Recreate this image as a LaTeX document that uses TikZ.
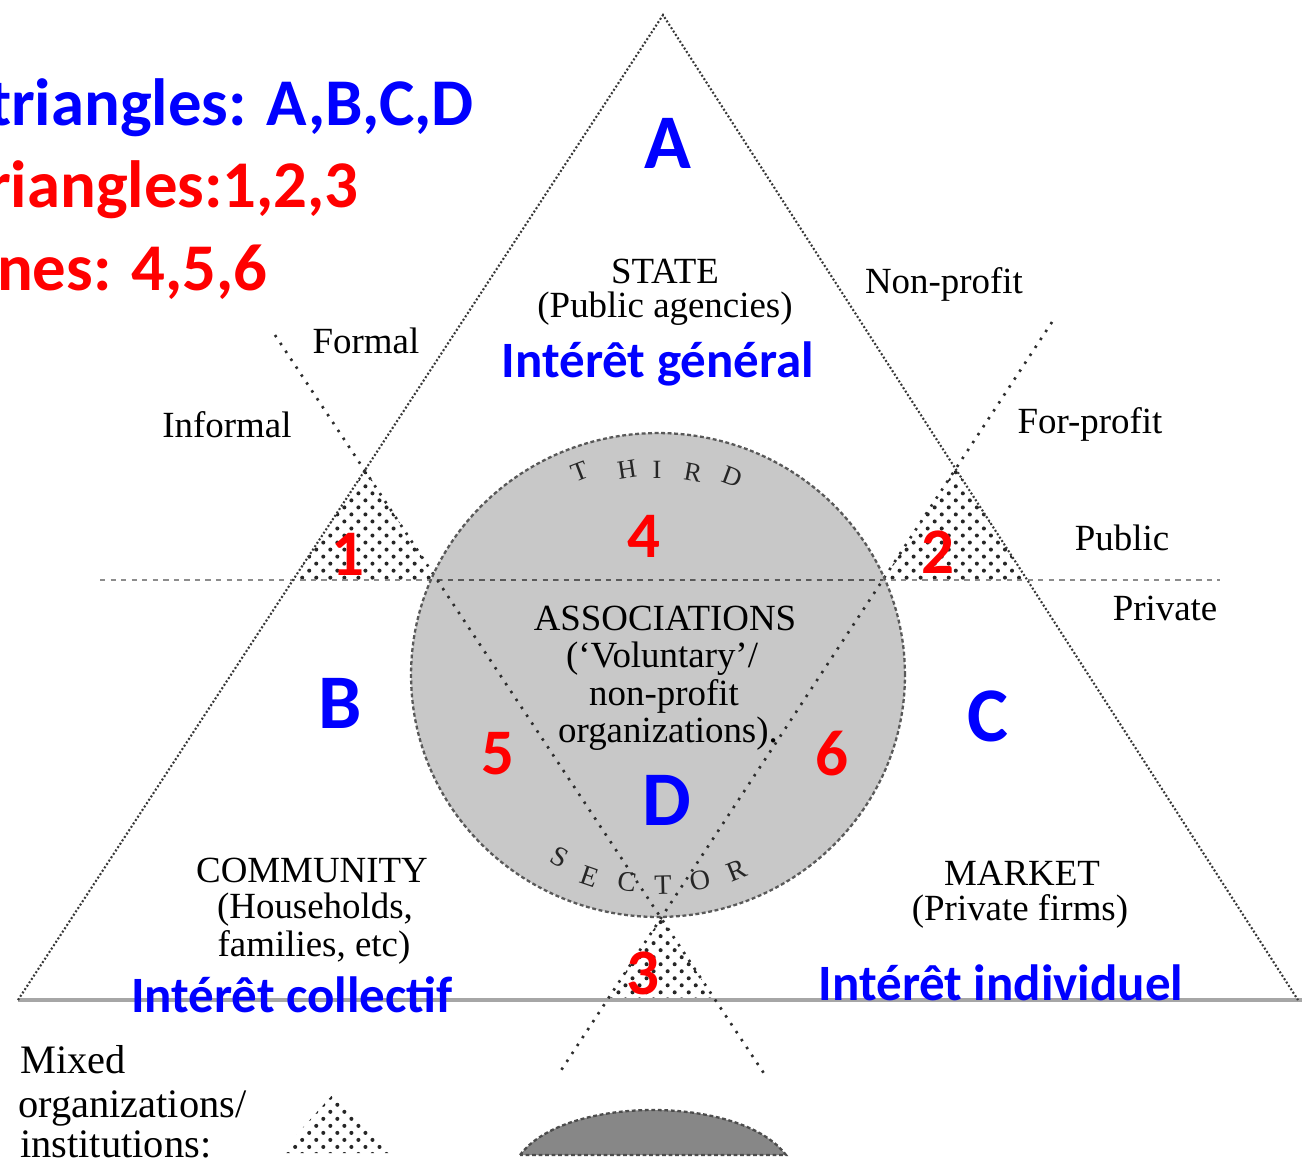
\documentclass[tikz,border=0pt]{standalone}
\usepackage{fontspec}
\setmainfont{Liberation Serif}
\newfontfamily\calfont{Carlito}
\usetikzlibrary{patterns,patterns.meta}
\definecolor{circgrey}{RGB}{200,200,200}
\definecolor{seggrey}{RGB}{135,135,135}
\definecolor{annblue}{RGB}{0,0,255}
\definecolor{annred}{RGB}{255,0,0}
\begin{document}
\begin{tikzpicture}[x=0.02cm,y=-0.02cm,
  bigside/.style={draw=black!78, line width=1.2pt, dash pattern=on 1.1pt off 1.2pt},
  divider/.style={draw=black!82, line width=1.5pt, dash pattern=on 1.4pt off 4pt},
  pubpriv/.style={draw=black!45, line width=1.1pt, dash pattern=on 3pt off 3pt},
  baseln/.style={draw=black!35, line width=1.8pt},
  circedge/.style={draw=black!65, line width=1.3pt, dash pattern=on 2.2pt off 1.5pt},
  dotsa/.style={pattern={Dots[distance=8pt,radius=1.15pt]}, pattern color=black!85},
  dotsb/.style={pattern={Dots[distance=8pt,radius=1.15pt,xshift=4pt,yshift=4pt]}, pattern color=black!85},
  scan/.style={font=\fontsize{21}{24}\selectfont, text=black, inner sep=0pt, anchor=base},
  legtext/.style={font=\fontsize{23}{26}\selectfont, text=black, inner sep=0pt, anchor=base west},
  hdr/.style={font=\calfont\bfseries\fontsize{38}{42}\selectfont, inner sep=0pt, anchor=base east},
  bigl/.style={font=\calfont\bfseries\fontsize{44}{48}\selectfont, text=annblue, inner sep=0pt},
  num/.style={font=\calfont\bfseries\fontsize{37}{40}\selectfont, text=annred, inner sep=0pt},
  interet/.style={font=\calfont\bfseries\fontsize{29}{33}\selectfont, text=annblue, inner sep=0pt, anchor=base},
  arcl/.style={font=\fontsize{15}{17}\selectfont, text=black!85, inner sep=0pt},
  arcs/.style={font=\fontsize{16}{18}\selectfont, text=black!85, inner sep=0pt}
]
\useasboundingbox (0,0) rectangle (1302,1161);
\clip (0,0) rectangle (1302,1161);
\fill[white] (0,0) rectangle (1302,1161);

% key points
\coordinate (apex) at (663,15);
\coordinate (bl) at (18,1000);
\coordinate (br) at (1298,1000);
\coordinate (l1top) at (275,335);
\coordinate (l1bot) at (765,1075);
\coordinate (l2top) at (1052,322);
\coordinate (l2bot) at (558,1075);
\coordinate (t1a) at (365.4,470.1);
\coordinate (t1l) at (293,580);
\coordinate (t1r) at (437.2,580);
\coordinate (t2a) at (955.6,468.9);
\coordinate (t2l) at (882.7,580);
\coordinate (t2r) at (1027.2,580);
\coordinate (t3a) at (661,918);
\coordinate (t3l) at (607.2,1000);
\coordinate (t3r) at (715.3,1000);
\coordinate (cc) at (658,675);

% third sector circle
\fill[circgrey] (cc) ellipse [x radius=4.94cm, y radius=4.84cm];

% mixed triangles
\foreach \ds in {dotsa,dotsb}{
  \fill[\ds] (t1a) -- (t1l) -- (t1r) -- cycle;
  \fill[\ds] (t2a) -- (t2l) -- (t2r) -- cycle;
  \fill[\ds] (t3a) -- (t3l) -- (t3r) -- cycle;
}

% lines
\draw[baseln] (bl) -- (1302,1000);
\draw[pubpriv] (100,580) -- (1220,580);
\draw[pubpriv, draw=black!65] (t1r) -- (t2l);
\draw[bigside] (bl) -- (apex) -- (br);
\draw[divider] (l1top) -- (t3a) -- (l1bot);
\draw[divider] (l2top) -- (t3a) -- (l2bot);
\draw[circedge] (cc) ellipse [x radius=4.94cm, y radius=4.84cm];

% header annotations
\node[hdr, text=annblue] (h1) at (474,125) {triangles: A,B,C,D};
\node[hdr, text=annred] (h2) at (359,207) {riangles:1,2,3};
\node[hdr, text=annred] (h3) at (268,290) {nes: 4,5,6};

% big letters
\node[bigl] (lA) at (668,143) {A};
\node[bigl] (lB) at (340,703) {B};
\node[bigl] (lC) at (988,716) {C};
\node[bigl] (lD) at (667,800) {D};

% numbers
\node[num] (n1) at (348,554) {1};
\node[num] (n2) at (938,552) {2};
\node[num] (n3) at (643,973) {3};
\node[num] (n4) at (644,536) {4};
\node[num] (n5) at (498,754) {5};
\node[num] (n6) at (832,754) {6};

% interest labels
\node[interet] (ig) at (658,377) {Intérêt général};
\node[interet] (ic) at (292,1012) {Intérêt collectif};
\node[interet] (ii) at (1001,1000) {Intérêt individuel};

% scanned labels
\node[scan] (state) at (665,283) {STATE};
\node[scan] (statesub) at (665,317) {(Public agencies)};
\node[scan] (nonprofit) at (944,293) {Non-profit};
\node[scan] (forprofit) at (1090,433) {For-profit};
\node[scan] (formal) at (366,353) {Formal};
\node[scan] (informal) at (227,437) {Informal};
\node[scan] (public) at (1122,550) {Public};
\node[scan] (private) at (1165,620) {Private};
\node[scan] (assoc) at (665,630) {ASSOCIATIONS};
\node[scan] (assoc2) at (662,667) {(‘Voluntary’/};
\node[scan] (assoc3) at (664,705) {non-profit};
\node[scan] (assoc4) at (668,742) {organizations).};
\node[scan] (comm) at (312,882) {COMMUNITY};
\node[scan] (comm2) at (315,918) {(Households,};
\node[scan] (comm3) at (314,956) {families, etc)};
\node[scan] (market) at (1022,885) {MARKET};
\node[scan] (market2) at (1020,920) {(Private firms)};
\node[legtext] (mix1) at (20,1073) {Mixed};
\node[legtext] (mix2) at (18,1117) {organizations/};
\node[legtext] (mix3) at (20,1157) {institutions:};

% curved THIRD
\node[arcl, rotate=21] (third1) at (580,472) {T};
\node[arcl, rotate=8.6] (third2) at (627,470) {H};
\node[arcl] (third3) at (657,470) {I};
\node[arcl, rotate=-10] (third4) at (693,473) {R};
\node[arcl, rotate=-20.5] (third5) at (732,477) {D};
% curved SECTOR
\node[arcs, rotate=-28] (sec1) at (560,857) {S};
\node[arcs, rotate=-19] (sec2) at (590,877) {E};
\node[arcs, rotate=-8.5] (sec3) at (627,882) {C};
\node[arcs, rotate=1.4] (sec4) at (663,885) {T};
\node[arcs, rotate=12] (sec5) at (700,880) {O};
\node[arcs, rotate=22] (sec6) at (737,870) {R};

% legend symbols
\coordinate (lga) at (335,1092);
\coordinate (lgl) at (280,1153);
\coordinate (lgr) at (392,1153);
\fill[dotsa] (lga) -- (lgl) -- (lgr) -- cycle;
\fill[dotsb] (lga) -- (lgl) -- (lgr) -- cycle;
\coordinate (sgl) at (520,1155);
\coordinate (sgr) at (786,1155);
\fill[seggrey] (sgl) .. controls (565,1095) and (741,1095) .. (sgr) -- cycle;
\draw[circedge, draw=black!70] (sgl) .. controls (565,1095) and (741,1095) .. (sgr) -- cycle;
\end{tikzpicture}
\end{document}
